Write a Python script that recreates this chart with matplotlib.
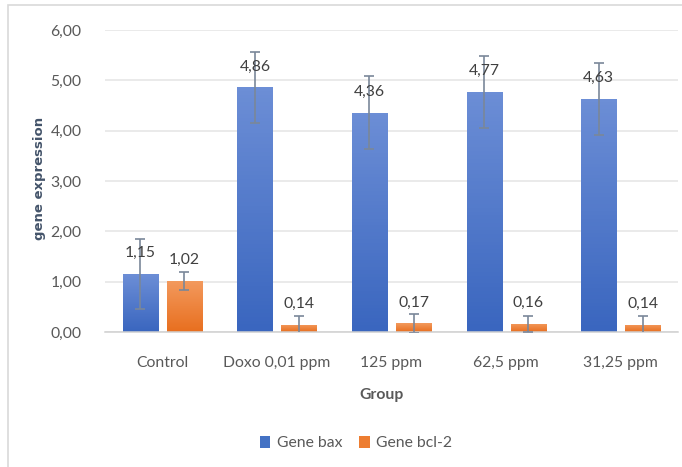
import numpy as np
import matplotlib
matplotlib.use("Agg")
import matplotlib.pyplot as plt
from matplotlib.colors import LinearSegmentedColormap
from matplotlib.patches import Rectangle

plt.rcParams['font.family'] = ['Lato', 'DejaVu Sans']

groups = ["Control", "Doxo 0,01 ppm", "125 ppm", "62,5 ppm", "31,25 ppm"]
bax = [1.15, 4.86, 4.36, 4.77, 4.63]
bcl2 = [1.02, 0.14, 0.17, 0.16, 0.14]
bax_err = [0.70, 0.71, 0.73, 0.71, 0.72]
bcl2_err = [0.18, 0.18, 0.19, 0.16, 0.18]
series_names = ["Gene bax", "Gene bcl-2"]

W, H = 682, 467
fig = plt.figure(figsize=(W / 100, H / 100), dpi=100)
fig.patches.append(Rectangle((8 / W, -0.1), 1.2, 1 - 5 / H + 0.1, transform=fig.transFigure,
                             fill=False, edgecolor='#D9D9D9', linewidth=1.2))
ax = fig.add_axes([105 / W, 1 - 332 / H, (678 - 105) / W, (332 - 30) / H])

x = np.arange(len(groups))
width = 0.306
off = 0.192
fs = 11.3
blue_cm = LinearSegmentedColormap.from_list('b', ['#3A66BF', '#6C8ED6'])
orange_cm = LinearSegmentedColormap.from_list('o', ['#E86F1F', '#F39A5E'])
grad = np.linspace(0, 1, 64).reshape(-1, 1)

def draw_bars(xs, vals, errs, cm, label, solid):
    bars = ax.bar(xs, vals, width, color=solid, label=label, zorder=2)
    for b in bars:
        x0, w, h = b.get_x(), b.get_width(), b.get_height()
        im = ax.imshow(grad, cmap=cm, origin='lower', aspect='auto',
                       extent=(x0, x0 + w, 0, h), zorder=2.1)
        im.set_clip_path(b)
    ax.errorbar(xs, vals, yerr=errs, fmt='none', ecolor='#7A8799', elinewidth=1.2,
                capsize=3.8, capthick=1.2, zorder=4)
    for xi, v in zip(xs, vals):
        ax.annotate(f"{v:.2f}".replace('.', ','), (xi, v), xytext=(0, 15),
                    textcoords='offset points', ha='center', va='center',
                    fontsize=fs, color='#404040', zorder=5)

draw_bars(x - off, bax, bax_err, blue_cm, series_names[0], '#4472C4')
draw_bars(x + off, bcl2, bcl2_err, orange_cm, series_names[1], '#ED7D31')

ax.set_xlim(-0.5, len(groups) - 0.5)
ax.set_ylim(0, 6)
ax.set_yticks(np.arange(0, 7, 1))
ax.set_yticklabels([f"{v:.2f}".replace('.', ',') for v in np.arange(0, 7, 1)])
ax.set_xticks(x)
ax.set_xticklabels(groups)
ax.tick_params(axis='y', length=0, pad=17, labelsize=fs, labelcolor='#595959')
ax.tick_params(axis='x', length=0, pad=17, labelsize=fs, labelcolor='#595959')
ax.grid(axis='y', color='#E4E4E4', linewidth=1.1, zorder=0)
ax.set_axisbelow(True)
for s in ['top', 'right', 'left']:
    ax.spines[s].set_visible(False)
ax.spines['bottom'].set_color('#D0D0D0')
ax.spines['bottom'].set_linewidth(1.1)

fig.text(40 / W, 1 - 178 / H, "gene expression", rotation=90, ha='center', va='center',
         fontsize=9.5, fontweight='bold', color='#44546A', family='DejaVu Sans')
fig.text(382 / W, 1 - 395 / H, "Group", ha='center', va='center',
         fontsize=fs, fontweight='bold', color='#595959')

leg = fig.legend(loc='center', bbox_to_anchor=(356 / W, 1 - 443 / H), ncol=2, frameon=False,
                 fontsize=fs, handlelength=0.65, handleheight=0.85, handletextpad=0.4,
                 columnspacing=1.1)
for t in leg.get_texts():
    t.set_color('#595959')

fig.savefig("out.png", dpi=100)
